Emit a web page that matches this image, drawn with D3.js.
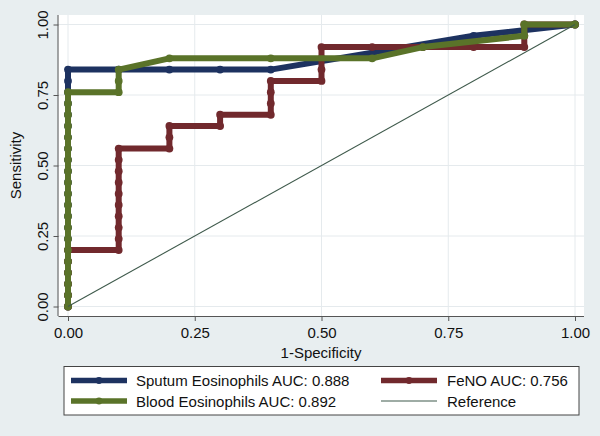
<!DOCTYPE html>
<html>
<head>
<meta charset="utf-8">
<script src="https://cdn.jsdelivr.net/npm/d3@7"></script>
<style>
  html, body { margin: 0; padding: 0; background: #e8eef0; }
  svg { display: block; }
  text { font-family: "Liberation Sans", Arial, Helvetica, sans-serif; fill: #111; }
</style>
</head>
<body>
<svg id="chart" width="600" height="436"></svg>
<script>
// ---- data ----
const xTicks = [0, 0.25, 0.5, 0.75, 1];
const yTicks = [0, 0.25, 0.5, 0.75, 1];
const xTickLabels = ["0.00", "0.25", "0.50", "0.75", "1.00"];
const yTickLabels = ["0.00", "0.25", "0.50", "0.75", "1.00"];

const seriesNames = ["Sputum Eosinophils AUC: 0.888", "FeNO AUC: 0.756", "Blood Eosinophils AUC: 0.892", "Reference"];

const sputumFPR  = [0,0,0,0,0,0,0,0,0,0,0,0,0,0,0,0,0,0,0,0,0,0, 0.1,0.2,0.3,0.4,0.8,1];
const sputumSens = [0,0.04,0.08,0.12,0.16,0.2,0.24,0.28,0.32,0.36,0.4,0.44,0.48,0.52,0.56,0.6,0.64,0.68,0.72,0.76,0.8,0.84, 0.84,0.84,0.84,0.84,0.96,1];

const fenoFPR  = [0,0,0,0,0,0, 0.1,0.1,0.1,0.1,0.1,0.1,0.1,0.1,0.1,0.1, 0.2,0.2,0.2, 0.3,0.3, 0.4,0.4,0.4,0.4, 0.5,0.5,0.5,0.5, 0.6,0.7,0.8,0.9,0.9,0.9, 1];
const fenoSens = [0,0.04,0.08,0.12,0.16,0.2, 0.2,0.24,0.28,0.32,0.36,0.4,0.44,0.48,0.52,0.56, 0.56,0.6,0.64, 0.64,0.68, 0.68,0.72,0.76,0.8, 0.8,0.84,0.88,0.92, 0.92,0.92,0.92,0.92,0.96,1, 1];

const bloodFPR  = [0,0,0,0,0,0,0,0,0,0,0,0,0,0,0,0,0,0,0,0, 0.1,0.1,0.1, 0.2,0.4,0.6,0.7,0.9,0.9,1];
const bloodSens = [0,0.04,0.08,0.12,0.16,0.2,0.24,0.28,0.32,0.36,0.4,0.44,0.48,0.52,0.56,0.6,0.64,0.68,0.72,0.76, 0.76,0.8,0.84, 0.88,0.88,0.88,0.92,0.96,1,1];

const refFPR  = [0, 1];
const refSens = [0, 1];

const colors = { sputum: "#1d3260", feno: "#71292d", blood: "#5a7329", ref: "#3f5a4c" };

// ---- layout ----
const FS = "15px";
const svg = d3.select("#chart");
const W = 600, H = 436;
const x = d3.scaleLinear().domain([0, 1]).range([68, 575]);
const y = d3.scaleLinear().domain([0, 1]).range([306.5, 24.5]);
const plotL = 58.5, plotR = 584, plotT = 15, plotB = 316;

svg.append("rect").attr("width", W).attr("height", H).attr("fill", "#e8eef0");
svg.append("rect").attr("x", plotL).attr("y", plotT).attr("width", plotR - plotL).attr("height", plotB - plotT).attr("fill", "#ffffff");

// grid
const grid = svg.append("g");
grid.selectAll("line.gx").data(xTicks).join("line")
  .attr("x1", d => x(d)).attr("x2", d => x(d)).attr("y1", plotT).attr("y2", plotB)
  .attr("stroke", "#e5eaed").attr("stroke-width", 1);
grid.selectAll("line.gy").data(yTicks).join("line")
  .attr("y1", d => y(d)).attr("y2", d => y(d)).attr("x1", plotL).attr("x2", plotR)
  .attr("stroke", "#e5eaed").attr("stroke-width", 1);

// axes
const xAxis = d3.axisBottom(x).tickValues(xTicks).tickFormat((d, i) => xTickLabels[i]).tickSize(5).tickSizeOuter(0);
const gx = svg.append("g").attr("transform", `translate(0,${plotB})`).call(xAxis);
gx.select(".domain").attr("d", `M${plotL},0.5H${plotR}`).attr("stroke", "#555");
gx.selectAll(".tick line").attr("stroke", "#555");
gx.selectAll(".tick text").attr("y", 22).attr("dy", 0).style("font-size", FS).style("font-family", "'Liberation Sans', Arial, sans-serif").attr("fill", "#111");

const yAxis = d3.axisLeft(y).tickValues(yTicks).tickFormat((d, i) => yTickLabels[i]).tickSize(5).tickSizeOuter(0);
const gy = svg.append("g").attr("transform", `translate(${plotL},0)`).call(yAxis);
gy.select(".domain").attr("d", `M-0.5,${plotT}V${plotB}`).attr("stroke", "#555");
gy.selectAll(".tick line").attr("stroke", "#555");
gy.selectAll(".tick text")
  .attr("x", null).attr("dy", 0)
  .attr("text-anchor", "middle")
  .attr("transform", "translate(-10.2,0) rotate(-90)")
  .style("font-size", FS).style("font-family", "'Liberation Sans', Arial, sans-serif").attr("fill", "#111");

svg.append("text").attr("x", 321).attr("y", 358).attr("text-anchor", "middle").style("font-size", FS).text("1-Specificity");
svg.append("text").attr("transform", "translate(21.3,165.5) rotate(-90)").attr("text-anchor", "middle").style("font-size", FS).text("Sensitivity");

// curves
function pts(xs, ys) { return xs.map((v, i) => [v, ys[i]]); }
const line = d3.line().x(d => x(d[0])).y(d => y(d[1]));
const series = [
  { key: "sputum", data: pts(sputumFPR, sputumSens) },
  { key: "feno", data: pts(fenoFPR, fenoSens) },
  { key: "blood", data: pts(bloodFPR, bloodSens) }
];
series.forEach(s => {
  const g = svg.append("g");
  g.append("path").datum(s.data).attr("d", line).attr("fill", "none")
    .attr("stroke", colors[s.key]).attr("stroke-width", 6).attr("stroke-linejoin", "round");
  g.selectAll("circle").data(s.data).join("circle")
    .attr("cx", d => x(d[0])).attr("cy", d => y(d[1])).attr("r", 3.9)
    .attr("fill", colors[s.key]);
});
svg.append("path").datum(pts(refFPR, refSens)).attr("d", line).attr("fill", "none")
  .attr("stroke", colors.ref).attr("stroke-width", 1.1);

// legend
const lg = svg.append("g");
lg.append("rect").attr("x", 64).attr("y", 366.5).attr("width", 515).attr("height", 48.5)
  .attr("fill", "#ffffff").attr("stroke", "#444").attr("stroke-width", 1);
const legendItems = [
  { name: seriesNames[0], key: "sputum", lx: 71, tx: 136, row: 0, thick: true },
  { name: seriesNames[1], key: "feno", lx: 381, tx: 447, row: 0, thick: true },
  { name: seriesNames[2], key: "blood", lx: 71, tx: 136, row: 1, thick: true },
  { name: seriesNames[3], key: "ref", lx: 381, tx: 447, row: 1, thick: false }
];
const rowY = [380.5, 401];
const rowBase = [386, 407];
legendItems.forEach(it => {
  const cy = rowY[it.row];
  lg.append("line").attr("x1", it.lx).attr("x2", it.lx + 56).attr("y1", cy).attr("y2", cy)
    .attr("stroke", colors[it.key]).attr("stroke-width", it.thick ? 5.5 : 1.1);
  if (it.thick) {
    lg.append("circle").attr("cx", it.lx + 28).attr("cy", cy).attr("r", 3.4).attr("fill", colors[it.key]);
  }
  lg.append("text").attr("x", it.tx).attr("y", rowBase[it.row]).style("font-size", FS).text(it.name);
});
</script>
</body>
</html>
